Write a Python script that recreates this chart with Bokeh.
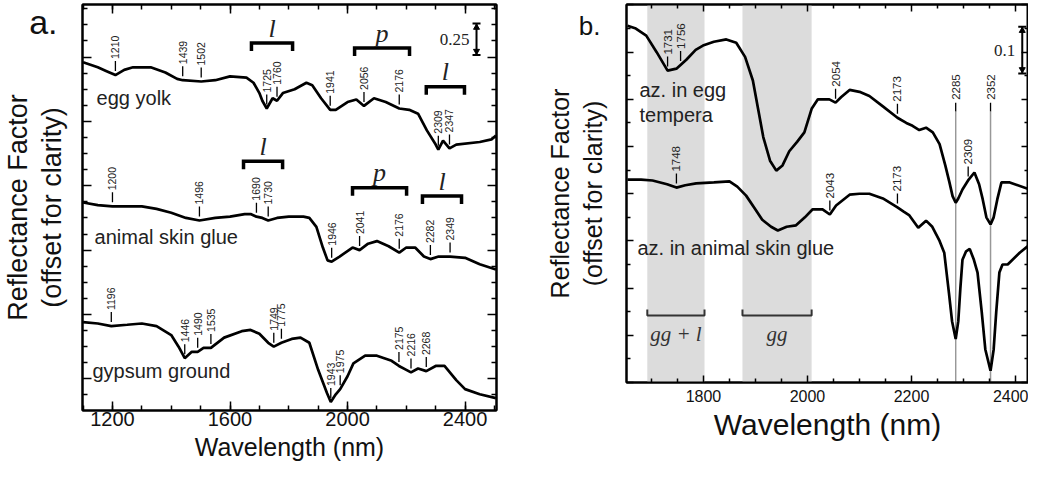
import numpy as np
from bokeh.plotting import figure
from bokeh.models import LinearAxis, Range1d, BoxAnnotation, FixedTicker, CustomJSTickFormatter
from bokeh.layouts import row
from bokeh.embed import file_html
from bokeh.resources import INLINE
from bokeh.core.properties import value

FONT = "Liberation Sans"
SERIF = "Liberation Serif"

# ---------------- panel a data ----------------
egg_x = [1100, 1150, 1180, 1210, 1240, 1270, 1330, 1380, 1420, 1439, 1502, 1550, 1600, 1656, 1680, 1700, 1710, 1725,
         1745, 1760, 1780, 1820, 1860, 1880, 1910, 1941, 1960, 2000, 2030, 2056, 2090, 2130, 2176, 2210, 2240, 2270,
         2300, 2309, 2325, 2347, 2370, 2450, 2490, 2505]
egg_y = [2.46, 2.42, 2.39, 2.36, 2.40, 2.42, 2.42, 2.38, 2.33, 2.32, 2.31, 2.32, 2.35, 2.34, 2.30, 2.22, 2.16, 2.10,
         2.18, 2.16, 2.22, 2.25, 2.30, 2.28, 2.18, 2.09, 2.09, 2.15, 2.17, 2.12, 2.18, 2.15, 2.10, 2.09, 2.06, 1.93,
         1.82, 1.78, 1.85, 1.79, 1.82, 1.84, 1.86, 1.89]
egg_peaks = [1210, 1439, 1502, 1725, 1760, 1941, 2056, 2176, 2309, 2347]

glue_x = [1100, 1150, 1200, 1300, 1350, 1400, 1450, 1496, 1550, 1600, 1650, 1670, 1690, 1710, 1730, 1760, 1800, 1850,
          1870, 1894, 1916, 1932, 1946, 1973, 2017, 2041, 2070, 2100, 2140, 2176, 2200, 2230, 2260, 2282, 2310, 2349,
          2400, 2450, 2505]
glue_y = [1.37, 1.35, 1.34, 1.34, 1.32, 1.29, 1.25, 1.23, 1.25, 1.26, 1.28, 1.28, 1.26, 1.25, 1.23, 1.25, 1.26, 1.26,
          1.25, 1.18, 1.02, 0.92, 0.91, 0.95, 1.02, 1.00, 1.05, 1.07, 1.03, 0.98, 1.02, 1.02, 0.95, 0.93, 0.95, 0.95,
          0.94, 0.89, 0.85]
glue_peaks = [1200, 1496, 1690, 1730, 1946, 2041, 2176, 2282, 2349]

gyp_x = [1100, 1150, 1196, 1250, 1300, 1350, 1400, 1425, 1446, 1470, 1490, 1510, 1535, 1580, 1640, 1670, 1700, 1730,
         1749, 1775, 1810, 1840, 1870, 1900, 1930, 1943, 1960, 1975, 2000, 2020, 2060, 2100, 2150, 2175, 2200, 2216,
         2240, 2268, 2300, 2330, 2370, 2400, 2450, 2505]
gyp_y = [0.44, 0.43, 0.41, 0.42, 0.43, 0.41, 0.34, 0.25, 0.16, 0.21, 0.21, 0.24, 0.24, 0.32, 0.37, 0.38, 0.35, 0.28,
         0.25, 0.28, 0.31, 0.32, 0.28, 0.07, -0.11, -0.18, -0.12, -0.08, 0.02, 0.12, 0.18, 0.18, 0.14, 0.10, 0.07, 0.05,
         0.08, 0.06, 0.10, 0.10, -0.01, -0.08, -0.12, -0.15]
gyp_peaks = [1196, 1446, 1490, 1535, 1749, 1775, 1943, 1975, 2175, 2216, 2268]

# brackets: (start, end, letter, top y)
brackets_a = [(1673, 1813, "l", 2.608), (2024, 2211, "p", 2.57), (2268, 2398, "l", 2.27),
              (1646, 1779, "l", 1.69), (2017, 2201, "p", 1.485), (2255, 2388, "l", 1.42)]

# ---------------- panel b data ----------------
egt_x = [1654, 1670, 1690, 1710, 1731, 1748, 1767, 1785, 1799, 1820, 1844, 1863, 1880, 1895, 1905, 1915, 1928, 1940,
         1952, 1965, 1980, 1994, 2008, 2020, 2042, 2054, 2065, 2081, 2100, 2119, 2145, 2173, 2190, 2202, 2215, 2228,
         2241, 2254, 2265, 2273, 2279, 2285, 2290, 2298, 2310, 2321, 2330, 2337, 2344, 2352, 2358, 2365, 2373, 2389,
         2425]
egt_y = [0.756, 0.75, 0.735, 0.70, 0.661, 0.665, 0.684, 0.705, 0.714, 0.722, 0.727, 0.72, 0.69, 0.64, 0.58, 0.52,
         0.47, 0.449, 0.46, 0.49, 0.51, 0.53, 0.58, 0.60, 0.60, 0.593, 0.605, 0.62, 0.616, 0.607, 0.585, 0.561, 0.55,
         0.544, 0.535, 0.54, 0.53, 0.505, 0.46, 0.424, 0.395, 0.381, 0.39, 0.409, 0.43, 0.445, 0.42, 0.388, 0.35,
         0.335, 0.35, 0.388, 0.424, 0.424, 0.41]
egt_peaks = [1731, 1756, 2054, 2173, 2309]

glb_x = [1654, 1680, 1702, 1730, 1748, 1765, 1786, 1820, 1850, 1865, 1882, 1898, 1913, 1930, 1943, 1960, 1978, 1995,
         2010, 2029, 2043, 2055, 2081, 2100, 2119, 2145, 2173, 2185, 2196, 2213, 2228, 2240, 2254, 2263, 2272, 2278,
         2285, 2290, 2294, 2298, 2305, 2312, 2320, 2327, 2335, 2342, 2352, 2358, 2363, 2369, 2375, 2385, 2408, 2425]
glb_y = [0.430, 0.43, 0.428, 0.42, 0.413, 0.418, 0.422, 0.424, 0.426, 0.415, 0.396, 0.37, 0.345, 0.33, 0.322, 0.33,
         0.333, 0.35, 0.367, 0.367, 0.356, 0.375, 0.398, 0.40, 0.40, 0.39, 0.371, 0.362, 0.354, 0.328, 0.343, 0.33,
         0.30, 0.275, 0.19, 0.13, 0.092, 0.13, 0.20, 0.26, 0.278, 0.283, 0.26, 0.233, 0.15, 0.07, 0.025, 0.07, 0.15,
         0.233, 0.25, 0.25, 0.275, 0.29]
glb_peaks = [1748, 2043, 2173]
dotted_peaks = [2285, 2352]
bands_b = [(1692, 1802, "gg + l"), (1875, 2008, "gg")]


def hidden_labels(ax):
    ax.major_label_text_font_size = "0px"
    ax.major_label_text_color = None
    ax.major_label_standoff = 0


def setup_axes(p, xt, xminor, yt, yminor, tick_fs, xlab_fs, ylab_fs, xstand, xlab_stand, ystand,
               panel_letter, letter_y, letter_fs, letter_stand, ystand2, tick_len):
    p.grid.visible = False
    p.outline_line_color = "black"
    p.outline_line_width = 2
    xa = p.xaxis[0]
    xa.ticker = FixedTicker(ticks=xt, minor_ticks=xminor)
    ya = p.yaxis[0]
    ya.ticker = FixedTicker(ticks=yt, minor_ticks=yminor)
    for ax in (xa, ya):
        ax.major_tick_in = tick_len
        ax.major_tick_out = 0
        ax.minor_tick_in = int(tick_len * 0.6)
        ax.minor_tick_out = 0
        ax.axis_line_width = 2
        ax.major_tick_line_width = 1.5
        ax.minor_tick_line_width = 1.5
        ax.axis_label_text_font = FONT
        ax.axis_label_text_font_style = "normal"
        ax.axis_label_text_color = "#111111"
    xa.major_label_text_font = FONT
    xa.major_label_text_font_size = tick_fs
    xa.major_label_text_color = "#111111"
    xa.major_label_standoff = xstand
    xa.axis_label = "Wavelength (nm)"
    xa.axis_label_text_font_size = xlab_fs
    xa.axis_label_standoff = xlab_stand
    hidden_labels(ya)
    ya.axis_label = "(offset for clarity)"
    ya.axis_label_text_font_size = ylab_fs
    ya.axis_label_standoff = ystand
    # outer left axis: carries the panel letter (as its only tick label) and the first title line
    y2 = LinearAxis(axis_label="Reflectance Factor", ticker=FixedTicker(ticks=[letter_y]),
                    formatter=CustomJSTickFormatter(code="return '%s'" % panel_letter),
                    axis_line_color=None, major_tick_line_color=None, minor_tick_line_color=None,
                    major_label_text_font=FONT, major_label_text_font_size=letter_fs,
                    major_label_text_color="#111111", major_label_standoff=letter_stand,
                    major_label_orientation="horizontal",
                    axis_label_text_font=FONT, axis_label_text_font_style="normal", axis_label_text_color="#111111",
                    axis_label_text_font_size=ylab_fs, axis_label_standoff=ystand2)
    p.add_layout(y2, "left")
    top = LinearAxis(ticker=FixedTicker(ticks=xt, minor_ticks=xminor), major_tick_in=tick_len, major_tick_out=0,
                     minor_tick_in=int(tick_len * 0.6), minor_tick_out=0,
                     axis_line_width=2, major_tick_line_width=1.5, minor_tick_line_width=1.5)
    hidden_labels(top)
    p.add_layout(top, "above")
    right = LinearAxis(ticker=FixedTicker(ticks=yt, minor_ticks=yminor), major_tick_in=tick_len, major_tick_out=0,
                       minor_tick_in=int(tick_len * 0.6), minor_tick_out=0,
                       axis_line_width=2, major_tick_line_width=1.5, minor_tick_line_width=1.5)
    hidden_labels(right)
    p.add_layout(right, "right")


def peak_marks(p, cx, cy, wls, ppu, fs, gap, tl):
    base = np.interp(wls, cx, cy)
    y0 = base + gap / ppu
    y1 = y0 + tl / ppu
    p.segment(x0=wls, y0=y0, x1=wls, y1=y1, line_color="black", line_width=1.3)
    p.text(x=wls, y=y1 + 2 / ppu, text=[str(w) for w in wls], angle=np.pi / 2, text_align="left",
           text_baseline="middle", text_font=value(FONT), text_font_size=fs, text_color="#222222")


def scale_bar(p, x, y0, y1, label, ppu, ppx, fs):
    p.segment(x0=[x], y0=[y0], x1=[x], y1=[y1], line_color="black", line_width=2)
    cw = 4 / ppx
    p.segment(x0=[x - cw, x - cw], y0=[y0, y1], x1=[x + cw, x + cw], y1=[y0, y1], line_color="black", line_width=2)
    p.scatter(x=[x], y=[y1 - 4 / ppu], marker="triangle", size=6, color="black")
    p.scatter(x=[x], y=[y0 + 4 / ppu], marker="inverted_triangle", size=6, color="black")
    p.text(x=[x - 7 / ppx], y=[(y0 + y1) / 2], text=[label], text_align="right", text_baseline="middle",
           text_font=value(SERIF), text_font_size=fs, text_color="#222222")


# ================= panel a =================
ya0, ya1 = -0.246, 2.908
xa0, xa1 = 1098, 2507
FWA, FHA = 414, 406
pa = figure(frame_width=FWA, frame_height=FHA, x_range=Range1d(xa0, xa1), y_range=Range1d(ya0, ya1),
            output_backend="svg", toolbar_location=None,
            min_border_left=75, min_border_right=23, min_border_top=0, min_border_bottom=59)
setup_axes(pa, [1200, 1600, 2000, 2400], list(range(1100, 2501, 100)),
           [0, 0.5, 1.0, 1.5, 2.0, 2.5], [v for v in np.arange(-0.125, 2.9, 0.125) if abs(v * 2 - round(v * 2)) > 1e-6],
           "20px", "25px", "27px", 1, 4, 16,
           "a.", 2.81, "34px", -30, -7, 9)
ppu_a = FHA / (ya1 - ya0)
ppx_a = FWA / (xa1 - xa0)

for cx, cy, pk in ((egg_x, egg_y, egg_peaks), (glue_x, glue_y, glue_peaks), (gyp_x, gyp_y, gyp_peaks)):
    pa.line(cx, cy, line_color="black", line_width=2.7)
    peak_marks(pa, cx, cy, pk, ppu_a, "10.5px", 4, 10)

for (s, e, letter, ytop) in brackets_a:
    d = 8 / ppu_a
    pa.multi_line(xs=[[s, s, e, e]], ys=[[ytop - d, ytop, ytop, ytop - d]], line_color="black", line_width=3.5,
                  line_join="miter")
    pa.text(x=[(s + e) / 2], y=[ytop + 15 / ppu_a], text=[letter], text_align="center", text_baseline="middle",
            text_font=value(SERIF), text_font_style="italic", text_font_size="26px", text_color="#222222")

for txt, x, y in (("egg yolk", 1146, 2.185), ("animal skin glue", 1139, 1.10), ("gypsum ground", 1132, 0.06)):
    pa.text(x=[x], y=[y], text=[txt], text_align="left", text_baseline="middle", text_font=value(FONT),
            text_font_size="20px", text_color="#222222")

scale_bar(pa, 2439, 2.515, 2.76, "0.25", ppu_a, ppx_a, "17px")

# ================= panel b =================
yb0, yb1 = 0.0, 0.801
xb0, xb1 = 1652, 2425
FWB, FHB = 402, 378
pb = figure(frame_width=FWB, frame_height=FHB, x_range=Range1d(xb0, xb1), y_range=Range1d(yb0, yb1),
            output_backend="svg", toolbar_location=None,
            min_border_left=107, min_border_right=0, min_border_top=4, min_border_bottom=83)
setup_axes(pb, [1800, 2000, 2200, 2400], [v for v in range(1700, 2426, 50) if v % 200 != 0],
           [round(v, 2) for v in np.arange(0.0, 0.81, 0.1)], [round(v, 3) for v in np.arange(0.05, 0.81, 0.1)],
           "16px", "30px", "25px", 7, 3, 20,
           "b.", 0.756, "26px", -31, 2, 7)
ppu_b = FHB / (yb1 - yb0)
ppx_b = FWB / (xb1 - xb0)

for (s, e, txt) in bands_b:
    pb.add_layout(BoxAnnotation(left=s, right=e, fill_color="#dcdcdc", fill_alpha=1.0, line_color=None,
                                level="underlay"))
    yb = 0.142
    d = 6 / ppu_b
    pb.multi_line(xs=[[s, s, e, e]], ys=[[yb + d, yb, yb, yb + d]], line_color="#333333", line_width=2)
    pb.text(x=[(s + e) / 2], y=[yb - 19 / ppu_b], text=[txt], text_align="center", text_baseline="middle",
            text_font=value(SERIF), text_font_style="italic", text_font_size="21px", text_color="#333333")

for wl in dotted_peaks:
    pb.segment(x0=[wl], y0=[0], x1=[wl], y1=[0.575], line_color="#333333", line_width=1.5, line_dash="1 1")
    pb.segment(x0=[wl], y0=[0.575], x1=[wl], y1=[0.593], line_color="black", line_width=1.3)
pb.text(x=dotted_peaks, y=[0.599, 0.599], text=[str(w) for w in dotted_peaks], angle=np.pi / 2, text_align="left",
        text_baseline="middle", text_font=value(FONT), text_font_size="11.5px", text_color="#222222")

for cx, cy, pk in ((egt_x, egt_y, egt_peaks), (glb_x, glb_y, glb_peaks)):
    pb.line(cx, cy, line_color="black", line_width=2.7)
    peak_marks(pb, cx, cy, pk, ppu_b, "11.5px", 4, 10)

for txt, x, y in (("az. in egg", 1677, 0.619), ("tempera", 1677, 0.566), ("az. in animal skin glue", 1673, 0.286)):
    pb.text(x=[x], y=[y], text=[txt], text_align="left", text_baseline="middle", text_font=value(FONT),
            text_font_size="20px", text_color="#222222")

scale_bar(pb, 2413, 0.655, 0.754, "0.1", ppu_b, ppx_b, "17px")

layout = row(pa, pb)
open("out.html", "w").write(file_html(layout, INLINE))
